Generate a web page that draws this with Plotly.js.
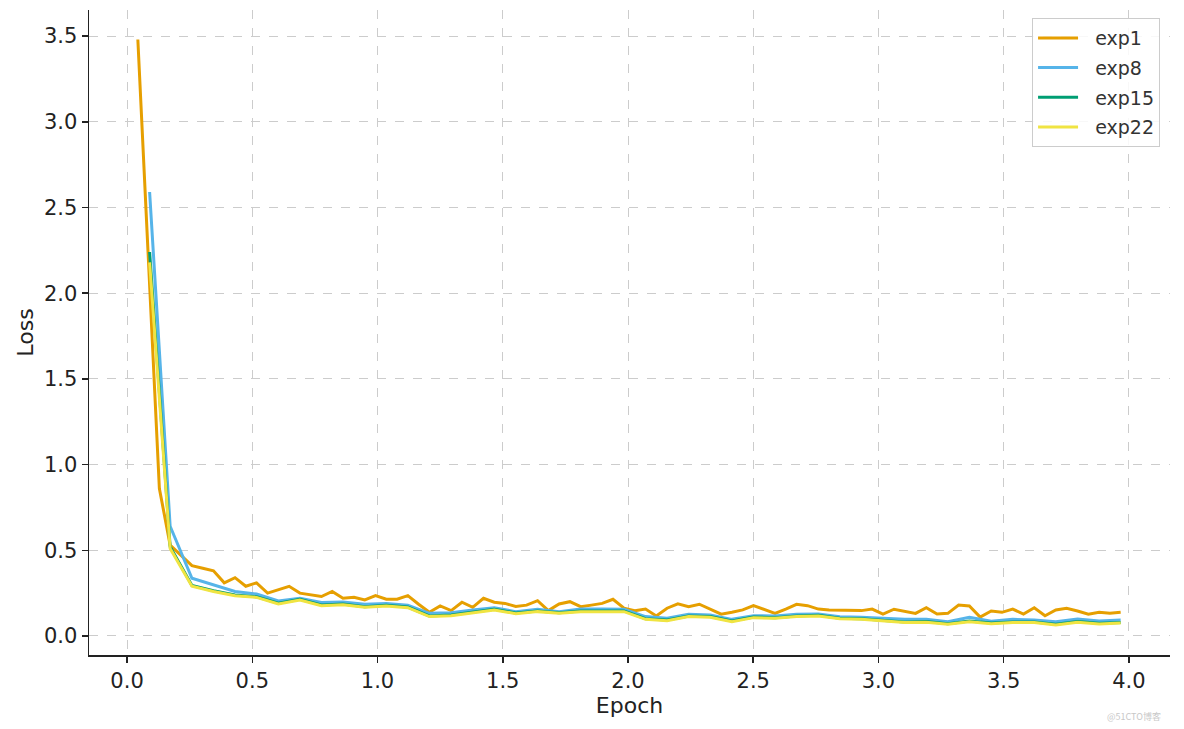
<!DOCTYPE html>
<html>
<head>
<meta charset="utf-8">
<script src="https://cdn.plot.ly/plotly-3.0.1.min.js"></script>
<style>html,body{margin:0;padding:0;background:#fff;}#chart{width:1184px;height:729px;}</style>
</head>
<body>
<div id="chart"></div>
<script>
const epochsFine = [0.043,0.086,0.129,0.172,0.216,0.259,0.302,0.345,0.388,0.431,0.474,0.517,0.561,0.604,0.647,0.690,0.733,0.776,0.819,0.862,0.906,0.949,0.992,1.035,1.078,1.121,1.164,1.207,1.250,1.294,1.337,1.380,1.423,1.466,1.509,1.552,1.595,1.639,1.682,1.725,1.768,1.811,1.854,1.897,1.940,1.984,2.027,2.070,2.113,2.156,2.199,2.242,2.285,2.328,2.372,2.415,2.458,2.501,2.544,2.587,2.630,2.673,2.717,2.760,2.803,2.846,2.889,2.932,2.975,3.018,3.062,3.105,3.148,3.191,3.234,3.277,3.320,3.363,3.406,3.450,3.493,3.536,3.579,3.622,3.665,3.708,3.751,3.795,3.838,3.881,3.924,3.967];
const epochsCoarse = [0.090,0.172,0.259,0.345,0.431,0.517,0.604,0.690,0.776,0.862,0.949,1.035,1.121,1.207,1.294,1.380,1.466,1.552,1.639,1.725,1.811,1.897,1.984,2.070,2.156,2.242,2.328,2.415,2.501,2.587,2.673,2.760,2.846,2.932,3.018,3.105,3.191,3.277,3.363,3.450,3.536,3.622,3.708,3.795,3.881,3.967];

const exp1 = [3.48,2.17,0.86,0.53,0.47,0.41,0.395,0.38,0.31,0.34,0.29,0.31,0.25,0.27,0.29,0.25,0.24,0.23,0.26,0.22,0.226,0.21,0.235,0.214,0.214,0.235,0.185,0.138,0.175,0.148,0.197,0.167,0.22,0.197,0.19,0.172,0.18,0.206,0.148,0.187,0.20,0.171,0.18,0.19,0.214,0.162,0.148,0.157,0.117,0.162,0.188,0.171,0.185,0.156,0.127,0.138,0.152,0.177,0.156,0.132,0.157,0.185,0.177,0.157,0.152,0.15,0.152,0.148,0.157,0.127,0.156,0.142,0.132,0.165,0.128,0.132,0.18,0.175,0.11,0.146,0.138,0.157,0.128,0.165,0.118,0.152,0.162,0.146,0.127,0.138,0.132,0.138];
const exp8 = [2.59,0.64,0.337,0.30,0.26,0.245,0.204,0.22,0.195,0.198,0.185,0.19,0.18,0.132,0.136,0.152,0.165,0.142,0.156,0.142,0.157,0.157,0.156,0.113,0.103,0.127,0.123,0.097,0.118,0.117,0.127,0.128,0.112,0.109,0.103,0.097,0.097,0.083,0.109,0.086,0.097,0.093,0.083,0.099,0.088,0.093];
const exp15 = [2.24,0.52,0.295,0.264,0.239,0.229,0.191,0.214,0.181,0.186,0.171,0.179,0.169,0.117,0.122,0.140,0.156,0.134,0.146,0.136,0.146,0.146,0.146,0.101,0.093,0.117,0.113,0.087,0.111,0.107,0.117,0.121,0.104,0.101,0.093,0.082,0.084,0.072,0.087,0.076,0.082,0.082,0.068,0.084,0.074,0.079];
const exp22 = [2.18,0.51,0.29,0.26,0.235,0.225,0.187,0.21,0.177,0.182,0.167,0.175,0.165,0.113,0.118,0.136,0.152,0.13,0.142,0.132,0.142,0.142,0.142,0.097,0.089,0.113,0.109,0.083,0.107,0.103,0.113,0.117,0.1,0.097,0.089,0.078,0.08,0.068,0.083,0.072,0.078,0.078,0.064,0.08,0.07,0.075];

const seriesNames = ['exp1','exp8','exp15','exp22'];
const seriesColors = ['#E69F00','#56B4E9','#009E73','#F0E442'];

const traces = [
  {x: epochsFine, y: exp1},
  {x: epochsCoarse, y: exp8},
  {x: epochsCoarse, y: exp15},
  {x: epochsCoarse, y: exp22}
].map((t, i) => ({
  x: t.x, y: t.y, type: 'scatter', mode: 'lines',
  name: '\u00a0\u00a0' + seriesNames[i],
  legendgroup: 'g' + i,
  line: {color: seriesColors[i], width: 3}
}));

const tickFont = {family: 'DejaVu Sans, sans-serif', size: 21, color: '#222'};
const titleFont = {family: 'DejaVu Sans, sans-serif', size: 22, color: '#222'};
const layout = {
  width: 1184, height: 729,
  margin: {l: 89, r: 14, t: 10, b: 74},
  paper_bgcolor: '#fff', plot_bgcolor: '#fff',
  font: {family: 'DejaVu Sans, sans-serif', color: '#222'},
  xaxis: {
    range: [-0.152, 4.164], tick0: 0, dtick: 0.5, tickformat: '.1f',
    showline: true, linecolor: '#222', linewidth: 1.5,
    ticks: 'outside', ticklen: 6, tickwidth: 1.5, tickcolor: '#222',
    showgrid: true, gridcolor: '#cccccc', griddash: 'dash', gridwidth: 1,
    zeroline: false, tickfont: tickFont,
    title: {text: 'Epoch', font: titleFont, standoff: 3}
  },
  yaxis: {
    range: [-0.111, 3.652], tick0: 0, dtick: 0.5, tickformat: '.1f',
    showline: true, linecolor: '#222', linewidth: 1.5,
    ticks: 'outside', ticklen: 6, tickwidth: 1.5, tickcolor: '#222',
    showgrid: true, gridcolor: '#cccccc', griddash: 'dash', gridwidth: 1,
    zeroline: false, tickfont: tickFont,
    title: {text: 'Loss', font: titleFont, standoff: 4}
  },
  legend: {
    x: 0.9908, y: 0.9875, xanchor: 'right', yanchor: 'top',
    bgcolor: 'rgba(255,255,255,0.85)', bordercolor: '#cccccc', borderwidth: 1,
    font: {family: 'DejaVu Sans, sans-serif', size: 19, color: '#333'},
    tracegroupgap: 2, itemwidth: 40
  },
  showlegend: true,
  annotations: [{
    text: '@51CTO博客', xref: 'paper', yref: 'paper', x: 0.9935, y: -0.096,
    xanchor: 'right', yanchor: 'middle', showarrow: false,
    font: {family: 'Noto Sans CJK SC, sans-serif', size: 9, color: '#c8c8c8'}
  }]
};

Plotly.newPlot('chart', traces, layout, {displayModeBar: false, staticPlot: true});
</script>
</body>
</html>
